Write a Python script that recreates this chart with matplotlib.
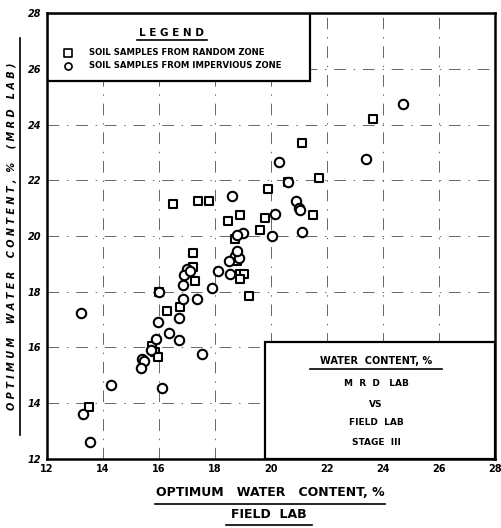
import matplotlib.pyplot as plt
import numpy as np
from matplotlib.patches import Rectangle
from matplotlib.lines import Line2D

# soil samples from random zone (squares)
random_x = [16.5, 17.4, 17.8, 18.45, 18.9, 17.2, 21.1, 23.65, 21.7, 19.9, 20.6, 19.8,
            19.6, 21.5, 18.7, 18.8, 17.2, 17.3, 18.9, 19.05, 18.9, 19.2, 16.0, 16.3,
            16.75, 15.75, 15.85, 15.95, 13.5]
random_y = [21.15, 21.25, 21.25, 20.55, 20.75, 19.4, 23.35, 24.2, 22.1, 21.7, 21.95, 20.65,
            20.2, 20.75, 19.9, 19.1, 18.9, 18.4, 18.65, 18.65, 18.45, 17.85, 18.0, 17.3,
            17.45, 16.05, 15.85, 15.65, 13.85]

# soil samples from impervious zone (circles)
imperv_x = [18.6, 20.3, 23.4, 24.7, 20.6, 20.9, 21.0, 21.05, 20.15, 20.05, 21.1, 19.0,
            18.8, 18.7, 18.85, 18.8, 18.5, 18.55, 17.0, 16.9, 17.1, 16.85, 16.85, 17.35,
            18.1, 17.9, 16.0, 15.95, 16.7, 16.35, 16.7, 15.9, 15.7, 15.4, 15.45, 15.35,
            17.55, 16.1, 14.3, 13.2, 13.3, 13.55]
imperv_y = [21.45, 22.65, 22.75, 24.75, 21.95, 21.25, 21.0, 20.95, 20.8, 20.0, 20.15, 20.1,
            20.05, 19.3, 19.2, 19.45, 19.1, 18.65, 18.8, 18.6, 18.75, 18.25, 17.75, 17.75,
            18.75, 18.15, 18.0, 16.9, 17.05, 16.5, 16.25, 16.3, 15.9, 15.6, 15.5, 15.25,
            15.75, 14.55, 14.65, 17.25, 13.6, 12.6]

ticks = np.arange(12, 29, 2)

fig = plt.figure(figsize=(5.01, 5.28), dpi=100)
ax = fig.add_axes([0.094, 0.131, 0.894, 0.844])
ax.set_xlim(12, 28)
ax.set_ylim(12, 28)
ax.set_xticks(ticks)
ax.set_yticks(ticks)
ax.set_xticklabels([str(t) for t in ticks], fontsize=7, fontweight='bold')
ax.set_yticklabels([str(t) for t in ticks], fontsize=7, fontweight='bold', style='italic')
ax.tick_params(length=0, pad=4)
for s in ax.spines.values():
    s.set_linewidth(1.8)

# faint dash-dot grid
for t in ticks[1:-1]:
    ax.axvline(t, color='#666666', lw=0.7, dashes=(12, 8, 1.5, 8), zorder=1)
    ax.axhline(t, color='#666666', lw=0.7, dashes=(12, 8, 1.5, 8), zorder=1)

ax.scatter(random_x, random_y, marker='s', s=40, facecolors='white',
           edgecolors='black', linewidths=1.5, zorder=3)
ax.scatter(imperv_x, imperv_y, marker='o', s=46, facecolors='white',
           edgecolors='black', linewidths=1.5, zorder=4)

# legend box
ax.add_patch(Rectangle((12, 25.55), 9.4, 2.45, facecolor='white', edgecolor='black',
                       lw=1.6, zorder=2))
ax.text(16.45, 27.3, 'L E G E N D', ha='center', va='center', fontsize=7.5,
        fontweight='bold', zorder=5)
ax.plot([15.2, 17.7], [27.05, 27.05], color='black', lw=1.2, zorder=5)
ax.scatter([12.75], [26.58], marker='s', s=26, facecolors='white', edgecolors='black',
           linewidths=1.2, zorder=5)
ax.scatter([12.75], [26.12], marker='o', s=26, facecolors='white', edgecolors='black',
           linewidths=1.2, zorder=5)
ax.text(13.5, 26.58, 'SOIL SAMPLES FROM RANDOM ZONE', va='center', fontsize=6.1,
        fontweight='bold', zorder=5)
ax.text(13.5, 26.12, 'SOIL SAMPLES FROM IMPERVIOUS ZONE', va='center', fontsize=6.1,
        fontweight='bold', zorder=5)

# title box
ax.add_patch(Rectangle((19.8, 12), 8.2, 4.2, facecolor='white', edgecolor='black',
                       lw=1.6, zorder=2))
ax.text(23.75, 15.5, 'WATER  CONTENT, %', ha='center', va='center', fontsize=7,
        fontweight='bold', zorder=5)
ax.plot([21.4, 26.1], [15.22, 15.22], color='black', lw=1.2, zorder=5)
for yy, s in [(14.69, 'M  R  D   LAB'), (13.94, 'VS'), (13.29, 'FIELD  LAB'),
              (12.57, 'STAGE  III')]:
    ax.text(23.75, yy, s, ha='center', va='center', fontsize=6.5, fontweight='bold',
            zorder=5)

# axis titles with underlines
fig.text(0.54, 1 - 493 / 528, 'OPTIMUM   WATER   CONTENT, %', ha='center', va='center',
         fontsize=9, fontweight='bold')
fig.add_artist(Line2D([155 / 501, 385 / 501], [1 - 504 / 528] * 2, color='black', lw=1.2))
fig.text(0.537, 1 - 515 / 528, 'FIELD  LAB', ha='center', va='center', fontsize=9,
         fontweight='bold')
fig.add_artist(Line2D([226 / 501, 312 / 501], [1 - 525 / 528] * 2, color='black', lw=1.2))

fig.text(12 / 501, 1 - 236 / 528, 'O P T I M U M    W A T E R    C O N T E N T ,  %    ( M R D   L A B )',
         rotation=90, ha='center', va='center', fontsize=7, fontweight='bold',
         style='italic')
fig.add_artist(Line2D([20 / 501] * 2, [1 - 435 / 528, 1 - 38 / 528], color='black', lw=1.2))

fig.savefig('out.png', dpi=100)
